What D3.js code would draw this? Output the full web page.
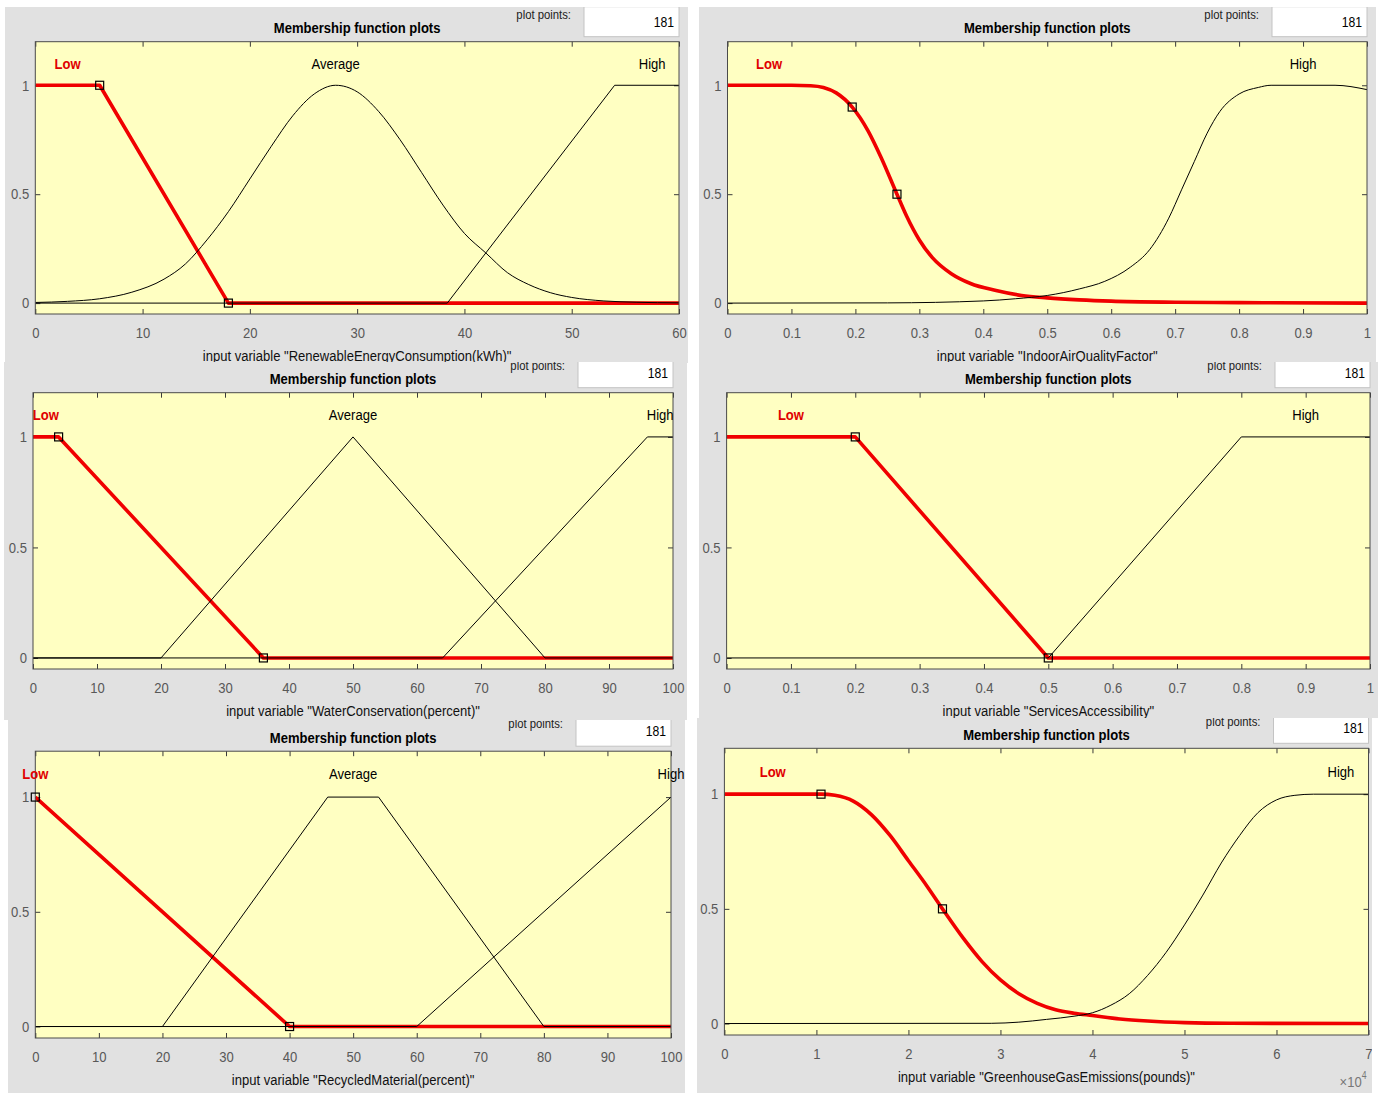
<!DOCTYPE html>
<html>
<head>
<meta charset="utf-8">
<script src="https://cdn.jsdelivr.net/npm/d3@7"></script>
<style>
  body { margin: 0; background: #fff; }
  svg { display: block; font-family: "Liberation Sans", Arial, sans-serif; }
</style>
</head>
<body>
<div id="chart"></div>
<script>
// gemeinsame Texte
const plotTitle = "Membership function plots";
const plotPointsLabel = "plot points:";
const plotPoints = 181;
const yTicks = [0, 0.5, 1];
const yRange = [-0.05, 1.2];

// Panel 1: RenewableEnergyConsumption
const energyName = 'input variable "RenewableEnergyConsumption(kWh)"';
const energyRange = [0, 60];
const energyTicks = [0, 10, 20, 30, 40, 50, 60];
const energyLow = [[0, 1], [6, 1], [18, 0], [60, 0]];
const energyLowMarks = [[6, 1], [18, 0]];
const energyAverage = [[0, 0.003], [3, 0.008], [6, 0.02], [9, 0.05], [12, 0.11], [14, 0.18], [16, 0.29],
  [18, 0.42], [20, 0.57], [22, 0.72], [24, 0.86], [26, 0.96], [28, 1.0], [30, 0.97], [32, 0.88],
  [34, 0.75], [36, 0.6], [38, 0.45], [40, 0.32], [42, 0.23], [44, 0.14], [46, 0.085], [48, 0.048],
  [50, 0.026], [53, 0.01], [56, 0.004], [60, 0.001]];
const energyHigh = [[0, 0], [38.4, 0], [54, 1], [60, 1]];
const energyLabels = [["Low", 3], ["Average", 28], ["High", 57.5]];

// Panel 2: IndoorAirQualityFactor
const airName = 'input variable "IndoorAirQualityFactor"';
const airRange = [0, 1];
const airTicks = [0, 0.1, 0.2, 0.3, 0.4, 0.5, 0.6, 0.7, 0.8, 0.9, 1];
const airLow = [[0, 1], [0.1, 1], [0.13, 0.998], [0.15, 0.99], [0.17, 0.965], [0.195, 0.9], [0.22, 0.79],
  [0.24, 0.67], [0.265, 0.5], [0.28, 0.4], [0.3, 0.29], [0.32, 0.21], [0.35, 0.135], [0.38, 0.09],
  [0.42, 0.058], [0.46, 0.035], [0.5, 0.024], [0.55, 0.015], [0.6, 0.009], [0.7, 0.004], [0.8, 0.002], [1, 0]];
const airLowMarks = [[0.195, 0.9], [0.265, 0.5]];
const airHigh = [[0, 0], [0.25, 0.001], [0.4, 0.01], [0.45, 0.02], [0.5, 0.035], [0.55, 0.065], [0.59, 0.1],
  [0.63, 0.165], [0.66, 0.245], [0.69, 0.39], [0.71, 0.52], [0.73, 0.65], [0.75, 0.78], [0.77, 0.88],
  [0.8, 0.96], [0.83, 0.99], [0.85, 1], [0.95, 1], [1, 0.98]];
const airLabels = [["Low", 0.065], ["High", 0.9]];

// Panel 3: WaterConservation
const waterName = 'input variable "WaterConservation(percent)"';
const waterRange = [0, 100];
const waterTicks = [0, 10, 20, 30, 40, 50, 60, 70, 80, 90, 100];
const waterLow = [[0, 1], [4, 1], [36, 0], [100, 0]];
const waterLowMarks = [[4, 1], [36, 0]];
const waterAverage = [[0, 0], [20, 0], [50, 1], [80, 0], [100, 0]];
const waterHigh = [[0, 0], [64, 0], [96, 1], [100, 1]];
const waterLabels = [["Low", 2], ["Average", 50], ["High", 98]];

// Panel 4: ServicesAccessibility
const servicesName = 'input variable "ServicesAccessibility"';
const servicesRange = [0, 1];
const servicesTicks = [0, 0.1, 0.2, 0.3, 0.4, 0.5, 0.6, 0.7, 0.8, 0.9, 1];
const servicesLow = [[0, 1], [0.2, 1], [0.5, 0], [1, 0]];
const servicesLowMarks = [[0.2, 1], [0.5, 0]];
const servicesHigh = [[0, 0], [0.5, 0], [0.8, 1], [1, 1]];
const servicesLabels = [["Low", 0.1], ["High", 0.9]];

// Panel 5: RecycledMaterial
const recycledName = 'input variable "RecycledMaterial(percent)"';
const recycledRange = [0, 100];
const recycledTicks = [0, 10, 20, 30, 40, 50, 60, 70, 80, 90, 100];
const recycledLow = [[0, 1], [40, 0], [100, 0]];
const recycledLowMarks = [[0, 1], [40, 0]];
const recycledAverage = [[0, 0], [20, 0], [46, 1], [54, 1], [80, 0], [100, 0]];
const recycledHigh = [[0, 0], [60, 0], [100, 1]];
const recycledLabels = [["Low", 0], ["Average", 50], ["High", 100]];

// Panel 6: GreenhouseGasEmissions (Werte in Einheiten von 10^4)
const ghgName = 'input variable "GreenhouseGasEmissions(pounds)"';
const ghgRange = [0, 7];
const ghgTicks = [0, 1, 2, 3, 4, 5, 6, 7];
const ghgLow = [[0, 1], [0.9, 1], [1.05, 1], [1.2, 0.995], [1.4, 0.97], [1.6, 0.91], [1.8, 0.82], [2.0, 0.71],
  [2.2, 0.6], [2.37, 0.5], [2.6, 0.37], [2.8, 0.27], [3.0, 0.19], [3.2, 0.13], [3.4, 0.088], [3.6, 0.06],
  [3.8, 0.045], [4.0, 0.035], [4.3, 0.02], [4.6, 0.011], [5.0, 0.004], [5.5, 0.001], [7, 0]];
const ghgLowMarks = [[1.05, 1], [2.37, 0.5]];
const ghgHigh = [[0, 0], [2.9, 0.001], [3.2, 0.006], [3.5, 0.018], [3.8, 0.032], [4.0, 0.047], [4.2, 0.08],
  [4.4, 0.13], [4.6, 0.21], [4.8, 0.31], [5.0, 0.43], [5.2, 0.56], [5.4, 0.7], [5.6, 0.82], [5.8, 0.92],
  [6.0, 0.975], [6.2, 0.995], [6.4, 1], [7, 1]];
const ghgLabels = [["Low", 0.525], ["High", 6.7]];
const ghgExponent = "4";

// Lage der einzelnen Screenshots: Hintergrund [x0,y0,x1,y1] und Achsenfläche [x0,y0,x1,y1]
const layout = [
  { bg: [5, 7, 688, 363], plot: [35.3, 41.7, 679, 314] },
  { bg: [699, 7, 1376, 363], plot: [727.5, 41.7, 1367, 314] },
  { bg: [4, 362, 687, 720], plot: [33, 392.7, 673, 669] },
  { bg: [699, 362, 1378, 718], plot: [726.6, 392.7, 1370, 669] },
  { bg: [8, 720, 685, 1093], plot: [35.3, 751.2, 671, 1038] },
  { bg: [697, 718, 1372, 1093], plot: [724.4, 748.3, 1368.5, 1035] }
];

const panels = [
  { name: energyName, range: energyRange, ticks: energyTicks, labels: energyLabels, marks: energyLowMarks,
    mfs: [{ pts: energyLow, sel: true }, { pts: energyAverage, smooth: true }, { pts: energyHigh }] },
  { name: airName, range: airRange, ticks: airTicks, labels: airLabels, marks: airLowMarks,
    mfs: [{ pts: airLow, sel: true, smooth: true }, { pts: airHigh, smooth: true }] },
  { name: waterName, range: waterRange, ticks: waterTicks, labels: waterLabels, marks: waterLowMarks,
    mfs: [{ pts: waterLow, sel: true }, { pts: waterAverage }, { pts: waterHigh }] },
  { name: servicesName, range: servicesRange, ticks: servicesTicks, labels: servicesLabels, marks: servicesLowMarks,
    mfs: [{ pts: servicesLow, sel: true }, { pts: servicesHigh }] },
  { name: recycledName, range: recycledRange, ticks: recycledTicks, labels: recycledLabels, marks: recycledLowMarks,
    mfs: [{ pts: recycledLow, sel: true }, { pts: recycledAverage }, { pts: recycledHigh }] },
  { name: ghgName, range: ghgRange, ticks: ghgTicks, labels: ghgLabels, marks: ghgLowMarks, exponent: ghgExponent,
    mfs: [{ pts: ghgLow, sel: true, smooth: true }, { pts: ghgHigh, smooth: true }] }
];

const sx = 0.87; // Screenshot-Schrift ist horizontal gestaucht
const svg = d3.select("#chart").append("svg")
  .attr("width", 1380)
  .attr("height", 1093);
const defs = svg.append("defs");

function label(g, x, y, str, o = {}) {
  return g.append("text")
    .attr("transform", `translate(${x},${y}) scale(${sx},1)`)
    .attr("text-anchor", o.anchor || "middle")
    .attr("dominant-baseline", "central")
    .attr("font-size", o.size || 15)
    .attr("font-weight", o.weight || "normal")
    .attr("fill", o.fill || "#000")
    .text(str);
}

function styleAxis(a, withText) {
  a.attr("font-size", null).attr("font-family", null);
  a.select(".domain").remove();
  a.selectAll("line").attr("stroke", "#3a3a3a");
  if (withText) {
    a.selectAll("text")
      .attr("fill", "#585858")
      .attr("font-size", 15)
      .attr("transform", `scale(${sx},1)`);
  } else {
    a.selectAll("text").remove();
  }
}

panels.forEach((p, i) => {
  const L = layout[i];
  const [bx0, by0, bx1, by1] = L.bg;
  const [left, top, right, bottom] = L.plot;

  defs.append("clipPath").attr("id", `bg${i}`)
    .append("rect").attr("x", bx0).attr("y", by0).attr("width", bx1 - bx0).attr("height", by1 - by0);
  defs.append("clipPath").attr("id", `plot${i}`)
    .append("rect").attr("x", left).attr("y", top).attr("width", right - left).attr("height", bottom - top);

  const g = svg.append("g").attr("clip-path", `url(#bg${i})`);
  g.append("rect")
    .attr("x", bx0).attr("y", by0)
    .attr("width", bx1 - bx0).attr("height", by1 - by0)
    .attr("fill", "#e1e1e1");

  // Kopfzeile: Titel und "plot points"-Feld
  g.append("rect")
    .attr("x", right - 95).attr("y", top - 35)
    .attr("width", 95).attr("height", 30)
    .attr("fill", "#fff").attr("stroke", "#c4c4c4");
  label(g, right - 5, top - 20, plotPoints, { anchor: "end", size: 14 });
  label(g, right - 108, top - 27, plotPointsLabel, { anchor: "end", size: 13, fill: "#222" });
  label(g, (left + right) / 2, top - 14, plotTitle, { weight: "bold" });

  const x = d3.scaleLinear().domain(p.range).range([left, right]);
  const y = d3.scaleLinear().domain(yRange).range([bottom, top]);

  g.append("rect")
    .attr("x", left).attr("y", top)
    .attr("width", right - left).attr("height", bottom - top)
    .attr("fill", "#ffffc2");

  // Achsen mit Ticks nach innen
  g.append("g").attr("transform", `translate(0,${bottom})`)
    .call(d3.axisBottom(x).tickValues(p.ticks).tickSizeInner(-5).tickSizeOuter(0).tickPadding(13).tickFormat(d => String(d)))
    .call(a => styleAxis(a, true));
  g.append("g").attr("transform", `translate(0,${top})`)
    .call(d3.axisTop(x).tickValues(p.ticks).tickSizeInner(-5).tickSizeOuter(0))
    .call(a => styleAxis(a, false));
  g.append("g").attr("transform", `translate(${left},0)`)
    .call(d3.axisLeft(y).tickValues(yTicks).tickSizeInner(-5).tickSizeOuter(0).tickPadding(7).tickFormat(d => String(d)))
    .call(a => styleAxis(a, true));
  g.append("g").attr("transform", `translate(${right},0)`)
    .call(d3.axisRight(y).tickValues(yTicks).tickSizeInner(-5).tickSizeOuter(0))
    .call(a => styleAxis(a, false));

  // Zugehörigkeitsfunktionen: ausgewählte (rot) zuerst, die anderen darüber
  const lines = g.append("g").attr("clip-path", `url(#plot${i})`);
  const order = p.mfs.filter(m => m.sel).concat(p.mfs.filter(m => !m.sel));
  order.forEach(m => {
    const line = d3.line()
      .x(d => x(d[0]))
      .y(d => y(d[1]))
      .curve(m.smooth ? d3.curveMonotoneX : d3.curveLinear);
    lines.append("path")
      .datum(m.pts)
      .attr("d", line)
      .attr("fill", "none")
      .attr("stroke", m.sel ? "#f00000" : "#000")
      .attr("stroke-width", m.sel ? 3.6 : 1)
      .attr("stroke-linejoin", "round");
  });

  g.append("rect")
    .attr("x", left).attr("y", top)
    .attr("width", right - left).attr("height", bottom - top)
    .attr("fill", "none").attr("stroke", "#4a4a4a").attr("stroke-width", 1);

  // Parameterquadrate
  g.selectAll(null).data(p.marks).enter().append("rect")
    .attr("x", d => x(d[0]) - 4).attr("y", d => y(d[1]) - 4)
    .attr("width", 8).attr("height", 8)
    .attr("fill", "none").attr("stroke", "#000").attr("stroke-width", 1.2);

  // Beschriftungen der Funktionen
  p.labels.forEach(([name, pos], k) => {
    const isSel = k === 0;
    label(g, x(pos), y(1.1), name, {
      fill: isSel ? "#e00000" : "#000",
      weight: isSel ? "bold" : "normal"
    });
  });

  label(g, (left + right) / 2, bottom + 42, p.name, { fill: "#111" });

  if (p.exponent) {
    const t = g.append("text")
      .attr("transform", `translate(${right - 2},${bottom + 47}) scale(${sx},1)`)
      .attr("text-anchor", "end")
      .attr("dominant-baseline", "central")
      .attr("font-size", 15)
      .attr("fill", "#777");
    t.append("tspan").text("\u00d710");
    t.append("tspan").attr("font-size", 10).attr("dy", -6).text(p.exponent);
  }
});
</script>
</body>
</html>
